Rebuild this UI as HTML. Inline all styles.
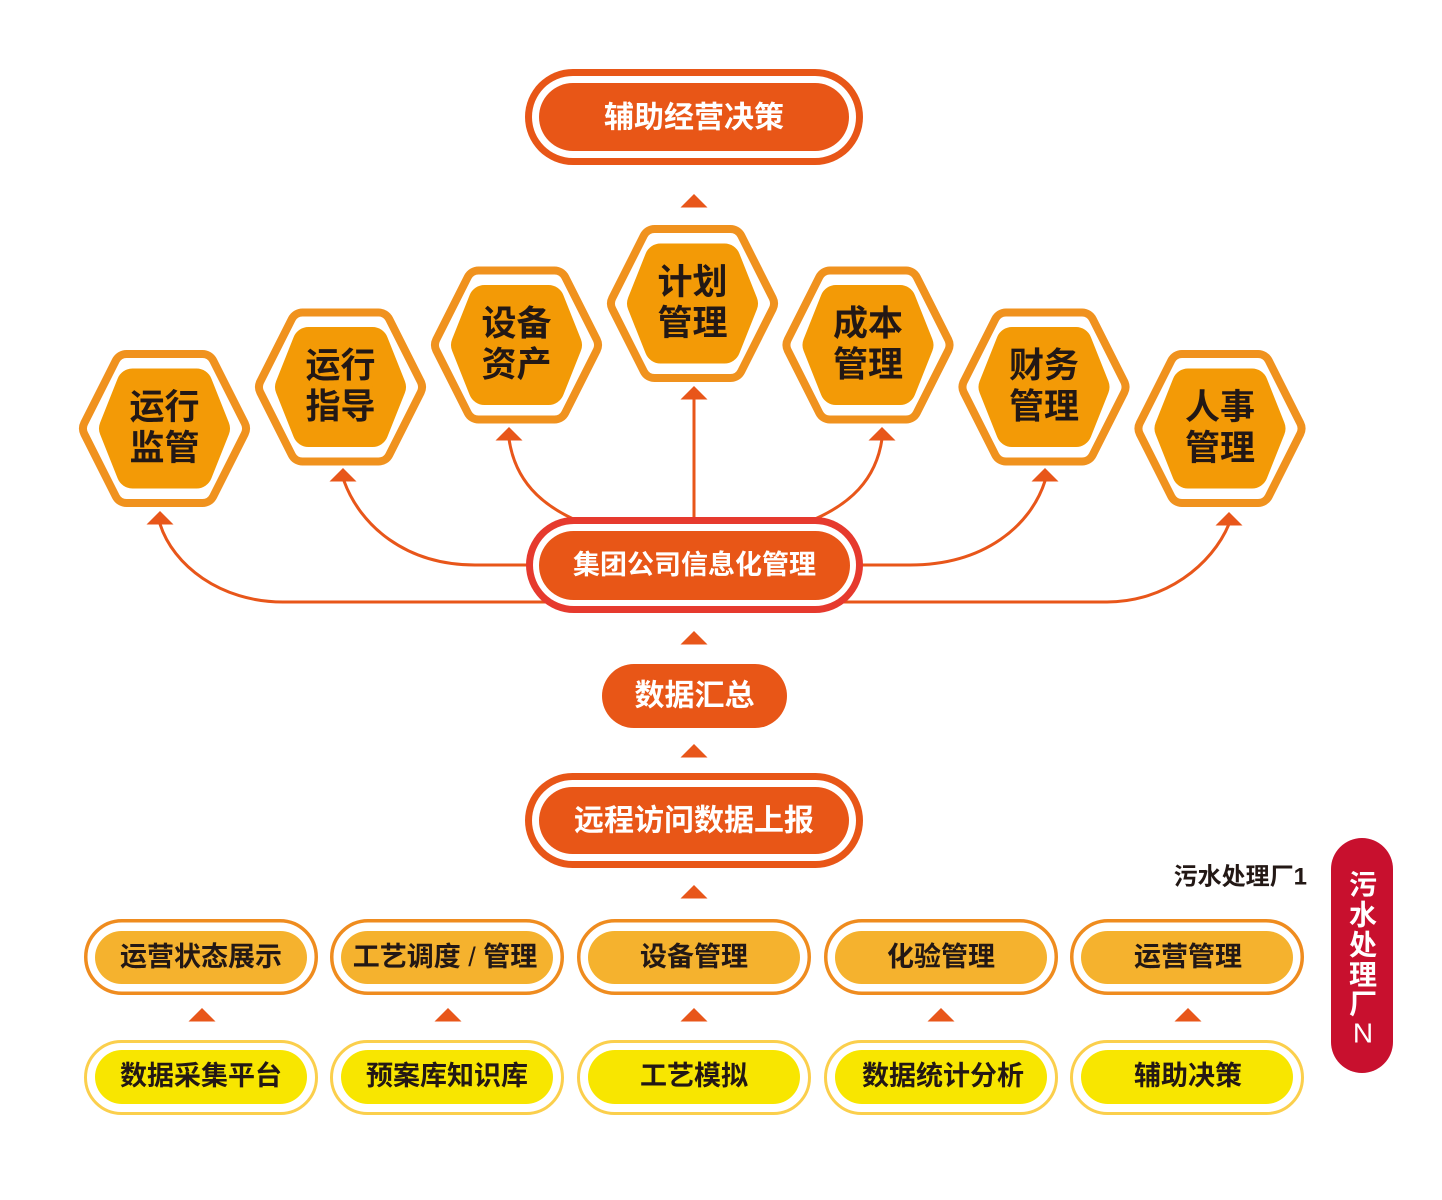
<!DOCTYPE html>
<html><head><meta charset="utf-8">
<style>
html,body{margin:0;padding:0;background:#fff;}
svg{display:block;}
text{font-family:"Liberation Sans","Noto Sans CJK SC","WenQuanYi Zen Hei",sans-serif;font-weight:bold;}
</style></head>
<body>
<svg width="1442" height="1200" viewBox="0 0 1442 1200" xmlns="http://www.w3.org/2000/svg">
<defs>
<polygon id="ho" points="-69.5,0 -38,-62.5 38,-62.5 69.5,0 38,62.5 -38,62.5"/>
<polygon id="hi" points="-49.5,0 -32,-44 32,-44 49.5,0 32,44 -32,44"/>
<polygon id="tri" points="0,0 13.5,13.5 -13.5,13.5"/>
</defs>
<rect width="1442" height="1200" fill="#fff"/>

<!-- connectors -->
<g fill="none" stroke="#e8561a" stroke-width="3">
<path d="M160 524 C173 565,220 602,283 602 L1107 602 C1165 602,1212 565,1229 524"/>
<path d="M344 481 C360 525,405 565,475 565 L910 565 C985 565,1031 525,1045 481"/>
<path d="M509 439 C515 480,540 505,580 522"/>
<path d="M882 439 C876 480,850 505,808 522"/>
<path d="M694 399 L694 520"/>
</g>

<!-- arrowheads -->
<g fill="#e8561a">
<use href="#tri" x="694" y="194"/>
<use href="#tri" x="160" y="511"/>
<use href="#tri" x="343" y="468"/>
<use href="#tri" x="509" y="427"/>
<use href="#tri" x="694" y="386"/>
<use href="#tri" x="882" y="427"/>
<use href="#tri" x="1045" y="468"/>
<use href="#tri" x="1229" y="512"/>
<use href="#tri" x="694" y="631"/>
<use href="#tri" x="694" y="744"/>
<use href="#tri" x="694" y="885"/>
<use href="#tri" x="202" y="1008"/>
<use href="#tri" x="448" y="1008"/>
<use href="#tri" x="694" y="1008"/>
<use href="#tri" x="941" y="1008"/>
<use href="#tri" x="1188" y="1008"/>
</g>

<!-- top box -->
<rect x="525" y="69" width="338" height="96" rx="48" fill="#e85617"/>
<rect x="532" y="76" width="324" height="82" rx="41" fill="#fff"/>
<rect x="539" y="83" width="310" height="68" rx="34" fill="#e85617"/>
<text x="694" y="118" font-size="30" fill="#fff" text-anchor="middle" dominant-baseline="central">辅助经营决策</text>

<!-- hexagons -->
<g transform="translate(164.5,428.5)">
<use href="#ho" fill="#f0921e" stroke="#f0921e" stroke-width="32" stroke-linejoin="round"/>
<use href="#ho" fill="#fff" stroke="#fff" stroke-width="16" stroke-linejoin="round"/>
<use href="#hi" fill="#f39a06" stroke="#f39a06" stroke-width="32" stroke-linejoin="round"/>
<text x="0" y="-21" font-size="35" fill="#231815" text-anchor="middle" dominant-baseline="central">运行</text>
<text x="0" y="20" font-size="35" fill="#231815" text-anchor="middle" dominant-baseline="central">监管</text>
</g>
<g transform="translate(340.5,387)">
<use href="#ho" fill="#f0921e" stroke="#f0921e" stroke-width="32" stroke-linejoin="round"/>
<use href="#ho" fill="#fff" stroke="#fff" stroke-width="16" stroke-linejoin="round"/>
<use href="#hi" fill="#f39a06" stroke="#f39a06" stroke-width="32" stroke-linejoin="round"/>
<text x="0" y="-21" font-size="35" fill="#231815" text-anchor="middle" dominant-baseline="central">运行</text>
<text x="0" y="20" font-size="35" fill="#231815" text-anchor="middle" dominant-baseline="central">指导</text>
</g>
<g transform="translate(516.5,345)">
<use href="#ho" fill="#f0921e" stroke="#f0921e" stroke-width="32" stroke-linejoin="round"/>
<use href="#ho" fill="#fff" stroke="#fff" stroke-width="16" stroke-linejoin="round"/>
<use href="#hi" fill="#f39a06" stroke="#f39a06" stroke-width="32" stroke-linejoin="round"/>
<text x="0" y="-21" font-size="35" fill="#231815" text-anchor="middle" dominant-baseline="central">设备</text>
<text x="0" y="20" font-size="35" fill="#231815" text-anchor="middle" dominant-baseline="central">资产</text>
</g>
<g transform="translate(692.5,303.5)">
<use href="#ho" fill="#f0921e" stroke="#f0921e" stroke-width="32" stroke-linejoin="round"/>
<use href="#ho" fill="#fff" stroke="#fff" stroke-width="16" stroke-linejoin="round"/>
<use href="#hi" fill="#f39a06" stroke="#f39a06" stroke-width="32" stroke-linejoin="round"/>
<text x="0" y="-21" font-size="35" fill="#231815" text-anchor="middle" dominant-baseline="central">计划</text>
<text x="0" y="20" font-size="35" fill="#231815" text-anchor="middle" dominant-baseline="central">管理</text>
</g>
<g transform="translate(868,345)">
<use href="#ho" fill="#f0921e" stroke="#f0921e" stroke-width="32" stroke-linejoin="round"/>
<use href="#ho" fill="#fff" stroke="#fff" stroke-width="16" stroke-linejoin="round"/>
<use href="#hi" fill="#f39a06" stroke="#f39a06" stroke-width="32" stroke-linejoin="round"/>
<text x="0" y="-21" font-size="35" fill="#231815" text-anchor="middle" dominant-baseline="central">成本</text>
<text x="0" y="20" font-size="35" fill="#231815" text-anchor="middle" dominant-baseline="central">管理</text>
</g>
<g transform="translate(1044,387)">
<use href="#ho" fill="#f0921e" stroke="#f0921e" stroke-width="32" stroke-linejoin="round"/>
<use href="#ho" fill="#fff" stroke="#fff" stroke-width="16" stroke-linejoin="round"/>
<use href="#hi" fill="#f39a06" stroke="#f39a06" stroke-width="32" stroke-linejoin="round"/>
<text x="0" y="-21" font-size="35" fill="#231815" text-anchor="middle" dominant-baseline="central">财务</text>
<text x="0" y="20" font-size="35" fill="#231815" text-anchor="middle" dominant-baseline="central">管理</text>
</g>
<g transform="translate(1220,428.5)">
<use href="#ho" fill="#f0921e" stroke="#f0921e" stroke-width="32" stroke-linejoin="round"/>
<use href="#ho" fill="#fff" stroke="#fff" stroke-width="16" stroke-linejoin="round"/>
<use href="#hi" fill="#f39a06" stroke="#f39a06" stroke-width="32" stroke-linejoin="round"/>
<text x="0" y="-21" font-size="35" fill="#231815" text-anchor="middle" dominant-baseline="central">人事</text>
<text x="0" y="20" font-size="35" fill="#231815" text-anchor="middle" dominant-baseline="central">管理</text>
</g>

<!-- group box -->
<rect x="526" y="517" width="337" height="96" rx="48" fill="#e63a2e"/>
<rect x="533" y="524" width="323" height="82" rx="41" fill="#fff"/>
<rect x="539" y="531" width="311" height="69" rx="34.5" fill="#e85617"/>
<text x="694.5" y="565" font-size="27" fill="#fff" text-anchor="middle" dominant-baseline="central">集团公司信息化管理</text>

<!-- 数据汇总 -->
<rect x="602" y="664" width="185" height="64" rx="32" fill="#e85617"/>
<text x="694.5" y="696" font-size="30" fill="#fff" text-anchor="middle" dominant-baseline="central">数据汇总</text>

<!-- 远程访问 -->
<rect x="525" y="773" width="338" height="95" rx="47.5" fill="#e85617"/>
<rect x="532" y="780" width="324" height="81" rx="40.5" fill="#fff"/>
<rect x="539" y="787" width="310" height="67" rx="33.5" fill="#e85617"/>
<text x="694" y="821" font-size="30" fill="#fff" text-anchor="middle" dominant-baseline="central">远程访问数据上报</text>

<!-- row 1 -->
<g>
<rect x="85.75" y="920.75" width="230.5" height="72.5" rx="36.25" fill="#fff" stroke="#ef8c1f" stroke-width="3.5"/>
<rect x="95" y="931" width="212" height="53" rx="26.5" fill="#f5b22e"/>
<text x="201" y="957" font-size="27" fill="#231815" text-anchor="middle" dominant-baseline="central">运营状态展示</text>

<rect x="331.75" y="920.75" width="230.5" height="72.5" rx="36.25" fill="#fff" stroke="#ef8c1f" stroke-width="3.5"/>
<rect x="341" y="931" width="212" height="53" rx="26.5" fill="#f5b22e"/>
<text x="445" y="957" font-size="27" fill="#231815" text-anchor="middle" dominant-baseline="central">工艺调度 <tspan style="font-weight:normal">/</tspan> 管理</text>

<rect x="578.75" y="920.75" width="230.5" height="72.5" rx="36.25" fill="#fff" stroke="#ef8c1f" stroke-width="3.5"/>
<rect x="588" y="931" width="212" height="53" rx="26.5" fill="#f5b22e"/>
<text x="694" y="957" font-size="27" fill="#231815" text-anchor="middle" dominant-baseline="central">设备管理</text>

<rect x="825.75" y="920.75" width="230.5" height="72.5" rx="36.25" fill="#fff" stroke="#ef8c1f" stroke-width="3.5"/>
<rect x="835" y="931" width="212" height="53" rx="26.5" fill="#f5b22e"/>
<text x="941" y="957" font-size="27" fill="#231815" text-anchor="middle" dominant-baseline="central">化验管理</text>

<rect x="1071.75" y="920.75" width="230.5" height="72.5" rx="36.25" fill="#fff" stroke="#ef8c1f" stroke-width="3.5"/>
<rect x="1081" y="931" width="212" height="53" rx="26.5" fill="#f5b22e"/>
<text x="1188" y="957" font-size="27" fill="#231815" text-anchor="middle" dominant-baseline="central">运营管理</text>
</g>

<!-- row 2 -->
<g>
<rect x="85.5" y="1041.5" width="231" height="72" rx="36" fill="#fff" stroke="#fbcf4c" stroke-width="3"/>
<rect x="95" y="1050" width="212" height="54" rx="27" fill="#f8e600"/>
<text x="201" y="1076" font-size="27" fill="#231815" text-anchor="middle" dominant-baseline="central">数据采集平台</text>

<rect x="331.5" y="1041.5" width="231" height="72" rx="36" fill="#fff" stroke="#fbcf4c" stroke-width="3"/>
<rect x="341" y="1050" width="212" height="54" rx="27" fill="#f8e600"/>
<text x="447" y="1076" font-size="27" fill="#231815" text-anchor="middle" dominant-baseline="central">预案库知识库</text>

<rect x="578.5" y="1041.5" width="231" height="72" rx="36" fill="#fff" stroke="#fbcf4c" stroke-width="3"/>
<rect x="588" y="1050" width="212" height="54" rx="27" fill="#f8e600"/>
<text x="694" y="1076" font-size="27" fill="#231815" text-anchor="middle" dominant-baseline="central">工艺模拟</text>

<rect x="825.5" y="1041.5" width="231" height="72" rx="36" fill="#fff" stroke="#fbcf4c" stroke-width="3"/>
<rect x="835" y="1050" width="212" height="54" rx="27" fill="#f8e600"/>
<text x="943" y="1076" font-size="27" fill="#231815" text-anchor="middle" dominant-baseline="central">数据统计分析</text>

<rect x="1071.5" y="1041.5" width="231" height="72" rx="36" fill="#fff" stroke="#fbcf4c" stroke-width="3"/>
<rect x="1081" y="1050" width="212" height="54" rx="27" fill="#f8e600"/>
<text x="1188" y="1076" font-size="27" fill="#231815" text-anchor="middle" dominant-baseline="central">辅助决策</text>
</g>

<!-- right labels -->
<text x="1307" y="877" font-size="24" fill="#231815" text-anchor="end" dominant-baseline="central">污水处理厂1</text>
<rect x="1331" y="838" width="62" height="235" rx="31" fill="#c8102e"/>
<g font-size="28" fill="#fff" text-anchor="middle">
<text x="1363" y="885" dominant-baseline="central">污</text>
<text x="1363" y="915" dominant-baseline="central">水</text>
<text x="1363" y="945" dominant-baseline="central">处</text>
<text x="1363" y="975" dominant-baseline="central">理</text>
<text x="1363" y="1004" dominant-baseline="central">厂</text>
<text x="1363" y="1033" dominant-baseline="central" style="font-weight:normal">N</text>
</g>
</svg>
</body></html>
